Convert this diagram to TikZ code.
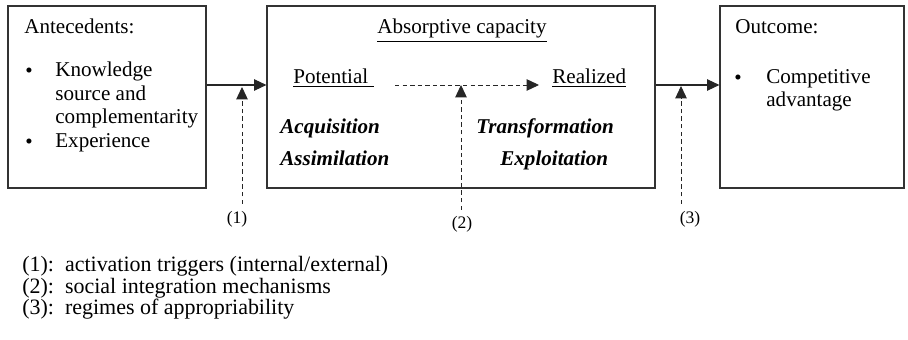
\documentclass[tikz,border=0pt]{standalone}
\usepackage{fontspec}
\setmainfont{Liberation Serif}
\usetikzlibrary{arrows.meta}

\begin{document}
\begin{tikzpicture}[x=0.02cm, y=-0.02cm,
    box/.style={draw=black!80, line width=0.7pt, inner sep=0pt},
    txt/.style={anchor=base west, inner sep=0pt, align=left, font=\fontsize{12}{13.6}\selectfont},
    capword/.style={anchor=base west, inner sep=0pt, font=\fontsize{12}{13.6}\selectfont\bfseries\itshape},
    arr/.style={-{Triangle[length=7pt, width=6.5pt]}, line width=0.6pt, draw=black!85},
    dasharr/.style={arr, dash pattern=on 2.5pt off 1.8pt, line width=0.5pt}]
    \useasboundingbox (0,0) rectangle (908,340);

    % the three boxes
    \node[box, minimum width=3.96cm, minimum height=3.64cm] (ante) at (107,97) {};
    \node[box, minimum width=7.76cm, minimum height=3.64cm] (absorb) at (461,97) {};
    \node[box, minimum width=3.68cm, minimum height=3.64cm] (outc) at (812,97) {};
    \coordinate (lvl) at (0,85);

    % antecedents (multi-line nodes sit on their last line)
    \node[txt] (antet) at (24,34) {Antecedents:};
    \node[txt] (b1) at (25,78) {\textbullet};
    \node[txt] (know) at (55,124) {Knowledge\\source and\\complementarity};
    \node[txt] (b2) at (25,149) {\textbullet};
    \node[txt] (exper) at (55,148) {Experience};

    % absorptive capacity
    \node[txt, anchor=base] (abst) at (462,34) {\underline{Absorptive capacity}};
    \node[txt] (pot) at (293,84) {\underline{Potential\ }};
    \node[txt] (real) at (552,84) {\underline{Realized}};
    \node[capword] (acq) at (280,134) {Acquisition};
    \node[capword] (assim) at (280,166) {Assimilation};
    \node[capword] (trans) at (476,134) {Transformation};
    \node[capword] (explo) at (500,166) {Exploitation};

    % outcome
    \node[txt] (outt) at (735,34) {Outcome:};
    \node[txt] (b3) at (734,85) {\textbullet};
    \node[txt] (comp) at (766,107) {Competitive\\advantage};

    % arrows
    \draw[arr] (ante.east |- lvl) -- (absorb.west |- lvl);
    \draw[arr] (absorb.east |- lvl) -- (outc.west |- lvl);
    \coordinate (pr1) at (395,85);
    \coordinate (pr2) at (539,85);
    \draw[dasharr] (pr1) -- (pr2);

    % triggers
    \node[anchor=base, inner sep=0pt, font=\fontsize{10}{12}\selectfont] (l1) at (237,224) {(1)};
    \node[anchor=base, inner sep=0pt, font=\fontsize{10}{12}\selectfont] (l2) at (462,229) {(2)};
    \node[anchor=base, inner sep=0pt, font=\fontsize{10}{12}\selectfont] (l3) at (690,224) {(3)};
    \coordinate (d1) at (242,204);
    \coordinate (d2) at (461,210);
    \coordinate (d3) at (681,204);
    \draw[dasharr] (d1) -- (242,87);
    \draw[dasharr] (d2) -- (461,85);
    \draw[dasharr] (d3) -- (681,86);

    % legend
    \node[txt, font=\fontsize{12.5}{10.6}\selectfont] (legend) at (22,315)
        {(1):\ \ activation triggers (internal/external)\\(2):\ \ social integration mechanisms\\(3):\ \ regimes of appropriability};
\end{tikzpicture}
\end{document}
